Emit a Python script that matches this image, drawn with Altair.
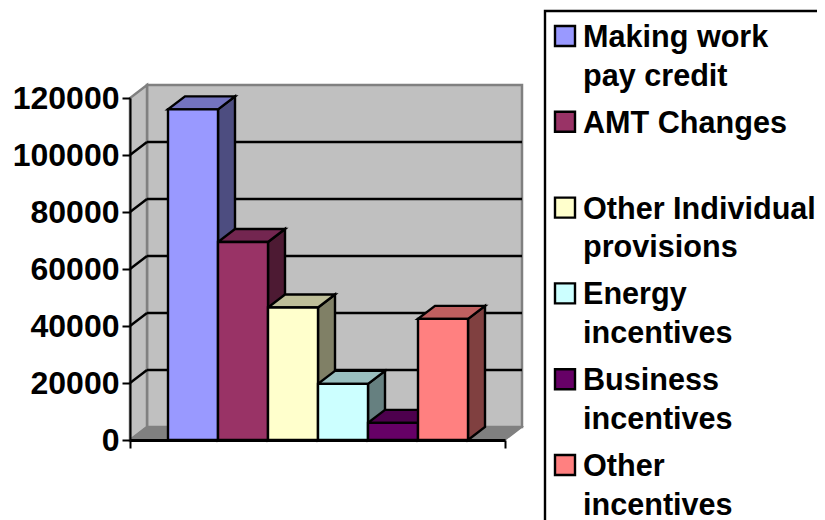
import altair as alt
import pandas as pd

SERIES = ["Making work pay credit", "AMT Changes", "Other Individual provisions",
          "Energy incentives", "Business incentives", "Other incentives"]
LABELS = ["Making work|pay credit", "AMT Changes", "Other Individual|provisions",
          "Energy|incentives", "Business|incentives", "Other|incentives"]
VALUES = [116000, 69500, 46500, 19700, 6000, 42500]
FRONT = ["#9999FF", "#993366", "#FFFFCC", "#CCFFFF", "#660066", "#FF8080"]
TOP = ["#7373BF", "#732650", "#BFBF99", "#99BFBF", "#4D004D", "#BF6060"]
SIDE = ["#4D4D80", "#4D1A33", "#808066", "#668080", "#330033", "#804040"]
TICKS = [0, 20000, 40000, 60000, 80000, 100000, 120000]

FONT = "Liberation Sans"
X_MAX = 7.5
X_START = 0.76
DX = 0.34
DY = 4560
Y_MAX = 120000
LINE = 2.4

xs = alt.Scale(domain=[0, X_MAX], nice=False, zero=False)
ys = alt.Scale(domain=[0, Y_MAX], nice=False, zero=False)


def X(f="x"):
    return alt.X(f"{f}:Q", scale=xs, axis=None)


def Y(f="y"):
    return alt.Y(f"{f}:Q", scale=ys, axis=None, stack=None)


def para_rows(key, color, x0, x1, y0):
    """Horizontal parallelogram (a floor or the top of a box) going back by DX, DY."""
    return [
        dict(k=key, c=color, x=x0, y=y0, y2=y0),
        dict(k=key, c=color, x=x0 + DX, y=y0, y2=y0 + DY),
        dict(k=key, c=color, x=x1, y=y0, y2=y0 + DY),
        dict(k=key, c=color, x=x1 + DX, y=y0 + DY, y2=y0 + DY),
    ]


def side_rows(key, color, x1, v):
    return [
        dict(k=key, c=color, x=x1, y=0, y2=v),
        dict(k=key, c=color, x=x1 + DX, y=DY, y2=v + DY),
    ]


fronts, sides, tops = [], [], []
for i, v in enumerate(VALUES):
    a = X_START + i
    b = a + 1
    fronts.append(dict(k=SERIES[i], c=FRONT[i], x=a, x2=b, y=0, y2=v))
    sides += side_rows(SERIES[i], SIDE[i], b, v)
    tops += para_rows(SERIES[i], TOP[i], a, b, v)


def poly(rows, stroke="black", width=LINE):
    return alt.Chart(pd.DataFrame(rows)).mark_area(
        stroke=stroke, strokeWidth=width, interpolate="linear", opacity=1
    ).encode(
        x=X(), y=Y(), y2="y2:Q",
        fill=alt.Fill("c:N", scale=None, legend=None),
        detail="k:N",
    )


GREY = "#808080"
WALL = "#C0C0C0"

axes = alt.Chart(pd.DataFrame({"t": TICKS, "u": [0.0] * len(TICKS)})).mark_point(opacity=0).encode(
    x=alt.X("u:Q", scale=xs, axis=alt.Axis(
        values=[0, X_MAX], labels=False, title=None, grid=False, tickSize=8,
        tickWidth=2, tickColor="black", domainColor="black", domainWidth=3, zindex=1)),
    y=alt.Y("t:Q", scale=ys, axis=alt.Axis(
        values=TICKS, title=None, grid=False, tickSize=8, tickWidth=2, tickColor="black",
        domainColor="black", domainWidth=2, labelFont=FONT, labelFontWeight="bold",
        labelFontSize=32, labelColor="black", labelPadding=3, format="d", zindex=1)),
)

back = alt.Chart(pd.DataFrame([dict(x=DX, x2=X_MAX + DX, y=DY, y2=Y_MAX + DY)])).mark_rect(
    fill=WALL, stroke=GREY, strokeWidth=2.5
).encode(x=X(), x2="x2:Q", y=Y(), y2="y2:Q")

left = poly([
    dict(k="w", c=WALL, x=0, y=0, y2=Y_MAX),
    dict(k="w", c=WALL, x=DX, y=DY, y2=Y_MAX + DY),
], stroke=GREY, width=2.5)

floor = poly(para_rows("f", GREY, 0, X_MAX, 0), stroke=GREY, width=1.5)

grid_df = pd.DataFrame({"v": TICKS[1:-1]})
grid_df["v2"] = grid_df["v"] + DY
grid_df["a"] = DX
grid_df["b"] = X_MAX + DX
grid_df["z"] = 0.0

grid = alt.Chart(grid_df).mark_rule(color="black", strokeWidth=LINE).encode(
    x=X("a"), x2="b:Q", y=Y("v2"))
diag = alt.Chart(grid_df).mark_rule(color="black", strokeWidth=LINE).encode(
    x=X("z"), x2="a:Q", y=Y("v"), y2="v2:Q")

side_layer = poly(sides)
top_layer = poly(tops)
front_layer = alt.Chart(pd.DataFrame(fronts)).mark_rect(stroke="black", strokeWidth=LINE).encode(
    x=X(), x2="x2:Q", y=Y(), y2="y2:Q",
    fill=alt.Fill("c:N", scale=None, legend=None),
)

# legend
legend_df = pd.DataFrame({"series": SERIES, "label": LABELS, "c": FRONT})
row_y = alt.Y("series:N", axis=None, scale=alt.Scale(
    type="point", domain=SERIES, range=[-62, 367], padding=0))

frame = alt.Chart(legend_df.head(1)).mark_rect(
    fill="white", stroke="black", strokeWidth=LINE
).encode(x=alt.value(415), x2=alt.value(720), y=alt.value(-87), y2=alt.value(440))

swatch = alt.Chart(legend_df).mark_square(size=400, stroke="black", strokeWidth=LINE, opacity=1).encode(
    x=alt.value(435), y=row_y, fill=alt.Fill("c:N", scale=None, legend=None))

label = alt.Chart(legend_df).mark_text(
    align="left", baseline="alphabetic", dy=11, lineBreak="|", lineHeight=38.5,
    font=FONT, fontWeight="bold", fontSize=30.6, color="black",
).encode(x=alt.value(453), y=row_y, text="label:N")

chart = alt.layer(
    back, left, floor, grid, diag, side_layer, top_layer, front_layer, axes,
    frame, swatch, label,
).resolve_scale(y="independent").resolve_axis(x="independent").properties(
    width=375, height=342,
    padding={"left": 122, "top": 90, "right": 312, "bottom": 80},
    autosize=alt.AutoSizeParams(type="none"),
    background="white",
).configure_view(stroke=None)

chart.save("out.html", embed_options={"renderer": "svg", "actions": False})
